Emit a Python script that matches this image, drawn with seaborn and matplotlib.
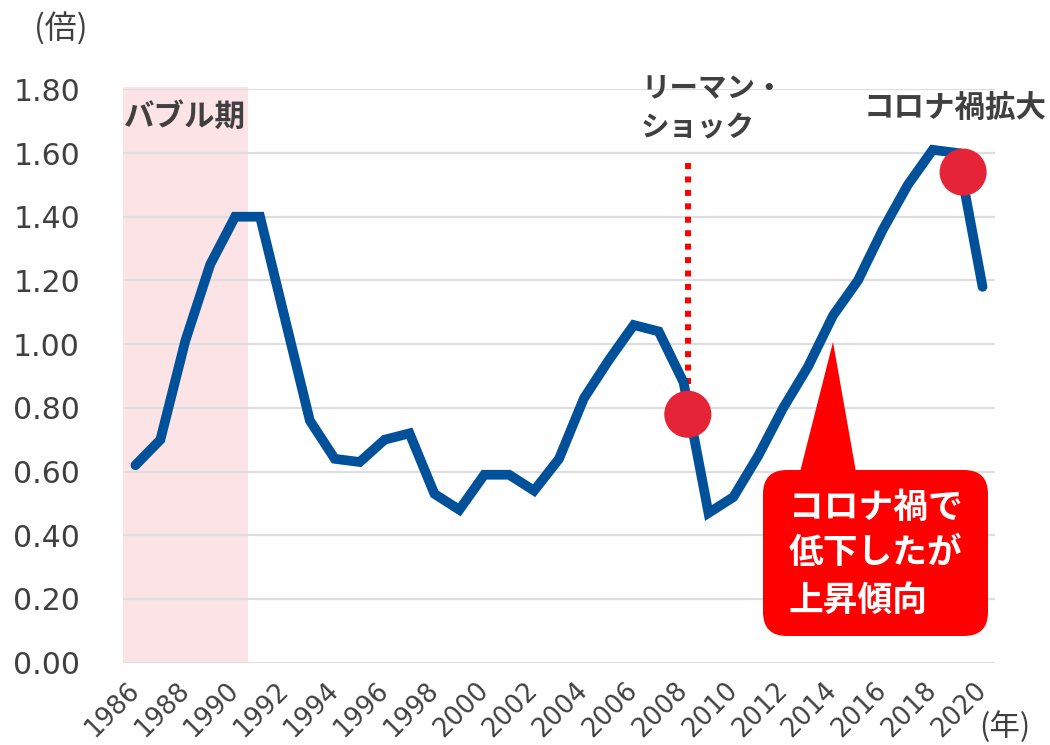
import matplotlib
matplotlib.use("Agg")
import matplotlib.pyplot as plt
import matplotlib.transforms as mtransforms
import seaborn as sns
import pandas as pd
from matplotlib.patches import FancyBboxPatch, Polygon
from matplotlib.transforms import IdentityTransform

# Jobs-to-applicants ratio, annual
years = list(range(1986, 2021))
ratio = [0.62, 0.70, 1.01, 1.25, 1.40, 1.40, 1.08, 0.76, 0.64, 0.63,
         0.70, 0.72, 0.53, 0.48, 0.59, 0.59, 0.54, 0.64, 0.83, 0.95,
         1.06, 1.04, 0.88, 0.47, 0.52, 0.65, 0.80, 0.93, 1.09, 1.20,
         1.36, 1.50, 1.61, 1.60, 1.18]

# Event markers
event_years = [2008.17, 2019.22]
event_values = [0.78, 1.54]

bubble_span = (1985.5, 1990.5)
lehman_year = 2008.17
lehman_line = (0.875, 1.583)

y_ticks = [0.0, 0.2, 0.4, 0.6, 0.8, 1.0, 1.2, 1.4, 1.6, 1.8]
x_ticks = list(range(1986, 2021, 2))

W, H = 1050, 745
LINE_BLUE = "#00519A"
DOT_RED = "#E52437"
TEXT = "#404040"
GRID = "#DEDEDE"
JP = ["Noto Sans CJK JP", "DejaVu Sans"]

sns.set_theme(style="white")
plt.rcParams["font.family"] = ["DejaVu Sans", "Noto Sans CJK JP"]

fig = plt.figure(figsize=(W / 100, H / 100), dpi=100)
ax = fig.add_axes([123 / W, 1 - 662.7 / H, (995 - 123) / W, (662.7 - 89.3) / H])

df = pd.DataFrame({"year": years, "ratio": ratio})

# bubble-era shading
ax.axvspan(*bubble_span, ymin=0, ymax=1.004, color="#FBE3E6", lw=0, zorder=0.2, clip_on=False)

# horizontal gridlines
for yv in y_ticks:
    ax.axhline(yv, color=GRID, lw=1.6, zorder=0.5)

sns.lineplot(data=df, x="year", y="ratio", ax=ax, color=LINE_BLUE, lw=7.0,
             zorder=3, legend=False)
for ln in ax.get_lines()[-1:]:
    ln.set_solid_capstyle("round")
    ln.set_solid_joinstyle("miter")

# Lehman shock marker line
ax.plot([lehman_year, lehman_year], list(lehman_line), color="#FF0000", lw=4.3,
        linestyle=(0, (1, 1.25)), dash_capstyle="butt", zorder=2)

sns.scatterplot(x=event_years, y=event_values, ax=ax, color=DOT_RED, s=1150,
                edgecolor="none", zorder=4, legend=False)

ax.set_xlim(1985.5, 2020.5)
ax.set_ylim(0, 1.8)
ax.set_yticks(y_ticks)
ax.set_yticklabels([f"{v:.2f}" for v in y_ticks], fontsize=21.5, color=TEXT)
ax.set_xticks(x_ticks)
ax.set_xticklabels([str(v) for v in x_ticks], fontsize=18.5, color=TEXT,
                   rotation=45, ha="right", va="center", rotation_mode="anchor")
shift = mtransforms.ScaledTranslation(4 / 100, 0, fig.dpi_scale_trans)
for lbl in ax.get_xticklabels():
    lbl.set_transform(lbl.get_transform() + shift)
ax.tick_params(axis="y", length=0, pad=31)
ax.tick_params(axis="x", length=0, pad=17)
ax.set_xlabel("")
ax.set_ylabel("")
for s in ax.spines.values():
    s.set_visible(False)


def px(x, y):
    """Pixel position measured from the top-left corner."""
    return x / W, 1 - y / H


# axis units
fig.text(*px(61, 29), "(倍)", family=JP, fontsize=23, color=TEXT, ha="center", va="center")
fig.text(*px(1005, 727), "(年)", family=JP, fontsize=22, color=TEXT, ha="center", va="center")

# event labels
fig.text(*px(124, 117), "バブル期", family=JP, fontsize=22, weight="bold", color=TEXT,
         ha="left", va="center")
fig.text(*px(641, 88), "リーマン・", family=JP, fontsize=20.5, weight="bold", color=TEXT,
         ha="left", va="center")
fig.text(*px(641, 128), "ショック", family=JP, fontsize=20.5, weight="bold", color=TEXT,
         ha="left", va="center")
fig.text(*px(955, 108), "コロナ禍拡大", family=JP, fontsize=22, weight="bold", color=TEXT,
         ha="center", va="center")

# callout box with pointer
ident = IdentityTransform()
box_l, box_r, box_t, box_b = 763, 988, 470, 636
rad = 24
box = FancyBboxPatch((box_l + rad, H - box_b + rad),
                     (box_r - box_l) - 2 * rad, (box_b - box_t) - 2 * rad,
                     boxstyle=f"round,pad={rad},rounding_size={rad}",
                     transform=ident, facecolor="#FF0000", edgecolor="none", zorder=5)
fig.add_artist(box)
tri = Polygon([(800, H - 472), (856, H - 472), (833, H - 342)], closed=True,
              transform=ident, facecolor="#FF0000", edgecolor="none", zorder=5)
fig.add_artist(tri)

for ty, txt in [(507, "コロナ禍で"), (553, "低下したが"), (600, "上昇傾向")]:
    t = fig.text(*px(789, ty), txt, family=JP, fontsize=25, weight="bold", color="white",
                 ha="left", va="center")
    t.set_zorder(6)

fig.savefig("out.png", dpi=100)
